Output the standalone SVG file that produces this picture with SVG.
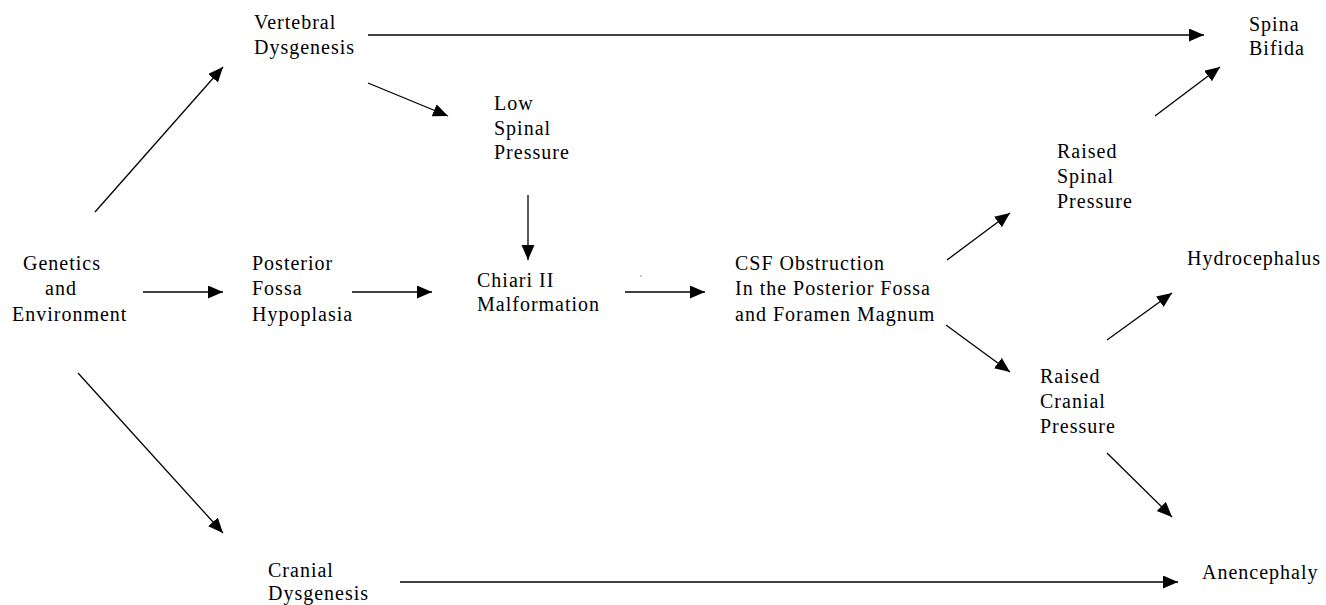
<svg xmlns="http://www.w3.org/2000/svg" width="1326" height="605" viewBox="0 0 1326 605">
<style>
text{font-family:"Liberation Serif","Times New Roman",serif;font-size:20px;letter-spacing:1px;fill:#000}
.c line{stroke:#000;stroke-width:1.3;marker-end:url(#ah)}
</style>
<defs>
<marker id="ah" markerUnits="userSpaceOnUse" markerWidth="16" markerHeight="14" refX="15" refY="6.5" orient="auto">
<path d="M0,0 L15,6.5 L0,13 z" fill="#000"/>
</marker>
</defs>
<rect width="1326" height="605" fill="#fff"/>
<g class="c" id="connectors">
<line x1="95" y1="212" x2="223" y2="67"/>
<line x1="368" y1="35" x2="1204" y2="35"/>
<line x1="368" y1="83" x2="448" y2="116"/>
<line x1="528" y1="195" x2="528" y2="260"/>
<line x1="143" y1="292" x2="223" y2="292"/>
<line x1="352" y1="292" x2="432" y2="292"/>
<line x1="625" y1="292" x2="705" y2="292"/>
<line x1="947" y1="260" x2="1010" y2="213"/>
<line x1="1155" y1="116" x2="1220" y2="67"/>
<line x1="946" y1="325" x2="1010" y2="372"/>
<line x1="1107" y1="340" x2="1172" y2="293"/>
<line x1="1107" y1="453" x2="1172" y2="517"/>
<line x1="78" y1="373" x2="223" y2="533"/>
<line x1="400" y1="582" x2="1178" y2="582"/>
</g>
<circle cx="641" cy="276" r="0.7" fill="#666"/>
<g id="genetics"><text x="23" y="270">Genetics</text><text x="45" y="295">and</text><text x="12" y="321">Environment</text></g>
<g id="vertebral"><text x="254" y="29">Vertebral</text><text x="254" y="54">Dysgenesis</text></g>
<g id="spina"><text x="1249" y="31">Spina</text><text x="1249" y="55">Bifida</text></g>
<g id="lowspinal"><text x="494" y="110">Low</text><text x="494" y="135">Spinal</text><text x="494" y="159">Pressure</text></g>
<g id="posterior"><text x="252" y="270">Posterior</text><text x="252" y="295">Fossa</text><text x="252" y="321">Hypoplasia</text></g>
<g id="chiari"><text x="477" y="287">Chiari II</text><text x="477" y="311">Malformation</text></g>
<g id="csf"><text x="735" y="270">CSF Obstruction</text><text x="735" y="295">In the Posterior Fossa</text><text x="735" y="321">and Foramen Magnum</text></g>
<g id="raisedspinal"><text x="1057" y="158">Raised</text><text x="1057" y="183">Spinal</text><text x="1057" y="208">Pressure</text></g>
<g id="hydro"><text x="1187" y="265">Hydrocephalus</text></g>
<g id="raisedcranial"><text x="1040" y="383">Raised</text><text x="1040" y="408">Cranial</text><text x="1040" y="433">Pressure</text></g>
<g id="cranial"><text x="268" y="577">Cranial</text><text x="268" y="600">Dysgenesis</text></g>
<g id="anen"><text x="1202" y="579">Anencephaly</text></g>
</svg>
